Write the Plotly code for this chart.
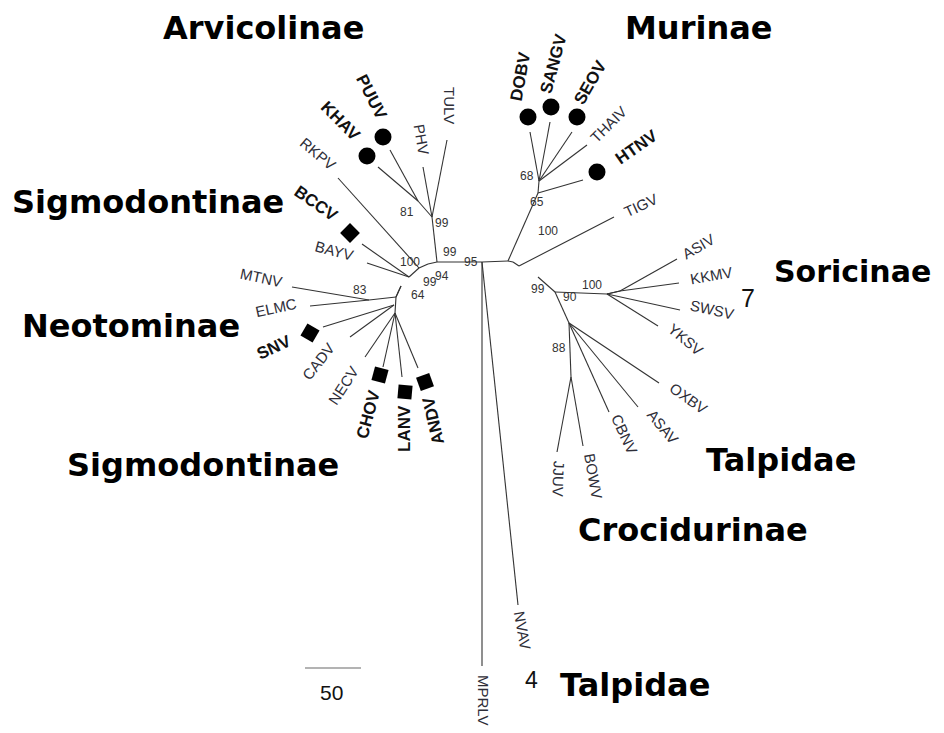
import plotly.graph_objects as go

# tree nodes (picture coordinates, y grows downward)
node_names = ["A", "M", "R", "Mu", "Mu2", "r1", "T", "r2", "S", "So", "So2", "Cr", "J",
              "B", "C", "l1", "D1", "D", "l2", "E", "F", "G", "e1",
              "TULV", "PHV", "PUUV", "KHAV", "RKPV", "BCCV", "BAYV", "MTNV", "ELMC",
              "SNV", "CADV", "NECV", "CHOV", "LANV", "ANDV",
              "DOBV", "SANGV", "SEOV", "THAIV", "HTNV", "TIGV",
              "ASIV", "KKMV", "SWSV", "YKSV", "OXBV", "ASAV", "CBNV", "BOWV", "JJUV",
              "NVAV", "MPRLV"]
node_x = [437, 482, 508, 538, 539, 513, 519, 538, 555, 607, 620, 569, 571,
          432, 418, 428, 419, 409, 401, 396, 369, 395, 394,
          447, 423, 390, 378, 338, 362, 367, 292, 310,
          323, 350, 365, 383, 402, 418,
          530, 550, 572, 587, 583, 614,
          677, 679, 680, 658, 659, 638, 609, 583, 557,
          518, 482]
node_y = [262, 262, 261, 193, 181, 262, 266, 277, 292, 294, 291, 323, 377,
          217, 201, 264, 268, 277, 286, 297, 300, 313, 305,
          140, 167, 150, 167, 178, 244, 263, 287, 306,
          327, 337, 357, 367, 377, 368,
          132, 122, 132, 145, 180, 217,
          259, 283, 310, 326, 383, 407, 412, 446, 452,
          605, 666]

edge_from = ["A", "M", "R", "Mu", "Mu2", "Mu2", "Mu2", "Mu2", "Mu",
             "R", "r1", "T", "r2", "S", "So", "So", "So2", "So2", "So", "So",
             "S", "Cr", "Cr", "Cr", "Cr", "J", "J",
             "M", "M",
             "A", "B", "B", "B", "C", "C",
             "A", "l1", "D1", "D1", "D", "D", "l2", "E", "F", "F",
             "E", "e1", "e1", "E", "G", "G", "G", "G"]
edge_to = ["M", "R", "Mu", "Mu2", "DOBV", "SANGV", "SEOV", "THAIV", "HTNV",
           "r1", "T", "TIGV", "S", "So", "So2", "SWSV", "ASIV", "KKMV", "YKSV", "So2",
           "Cr", "J", "OXBV", "ASAV", "CBNV", "BOWV", "JJUV",
           "NVAV", "MPRLV",
           "B", "TULV", "PHV", "C", "PUUV", "KHAV",
           "l1", "D1", "D", "RKPV", "BCCV", "BAYV", "E", "l2", "MTNV", "ELMC",
           "F", "SNV", "CADV", "G", "NECV", "CHOV", "LANV", "ANDV"]

circle_taxa = ["PUUV", "KHAV", "DOBV", "SANGV", "SEOV", "HTNV"]
square_taxa = ["BCCV", "SNV", "CHOV", "LANV", "ANDV"]
bold_taxa = circle_taxa + square_taxa

bootstrap_values = ["99", "81", "99", "100", "95", "99", "94", "64", "83",
                    "68", "65", "100", "99", "100", "90", "88"]

groups = ["Arvicolinae", "Murinae", "Sigmodontinae", "Soricinae", "Neotominae",
          "Sigmodontinae", "Talpidae", "Crocidurinae", "Talpidae"]
scale_value = 50

# ---- placement of marks and labels ----
marker_pos = {"PUUV": (383, 137), "KHAV": (367, 156), "DOBV": (528, 117),
              "SANGV": (551, 107), "SEOV": (577, 117), "HTNV": (597, 172),
              "BCCV": (350, 233), "SNV": (310, 333), "CHOV": (380, 375),
              "LANV": (405, 392), "ANDV": (425, 382)}
square_angle = {"BCCV": 45, "SNV": 30, "CHOV": 15, "LANV": 5, "ANDV": -20}

label_pos = {"TULV": (450, 105, 90), "PHV": (422, 139, 80), "PUUV": (372, 97, 63),
             "KHAV": (341, 121, 45), "RKPV": (318, 153, 40), "BCCV": (316, 203, 35),
             "BAYV": (334, 250, 15), "MTNV": (261, 277, 12), "ELMC": (276, 307, -12),
             "SNV": (274, 347, -25), "CADV": (318, 361, -52), "NECV": (343, 385, -57),
             "CHOV": (368, 414, -75), "LANV": (404, 429, -90), "ANDV": (433, 421, -103),
             "DOBV": (520, 76, -80), "SANGV": (553, 64, -75), "SEOV": (590, 82, -60),
             "THAIV": (608, 124, -45), "HTNV": (636, 147, -35), "TIGV": (640, 205, -25),
             "ASIV": (698, 246, -30), "KKMV": (711, 275, -10), "SWSV": (712, 309, 12),
             "YKSV": (686, 339, 40), "OXBV": (689, 398, 35), "ASAV": (663, 426, 50),
             "CBNV": (625, 434, 65), "BOWV": (594, 476, 80), "JJUV": (559, 479, 92),
             "NVAV": (523, 630, 80), "MPRLV": (484, 700, 90)}
boot_pos = [(442, 223), (407, 212), (450, 252), (410, 262), (471, 262), (430, 282),
            (442, 276), (418, 295), (360, 290), (527, 176), (537, 202), (548, 231),
            (538, 289), (592, 285), (570, 297), (559, 348)]
group_pos = [(263, 28), (698, 28), (148, 202), (852, 271), (131, 326),
             (203, 465), (781, 460), (693, 530), (635, 685)]
group_size = [32, 32, 32, 30, 32, 32, 32, 32, 32]

pos = {n: (x, y) for n, x, y in zip(node_names, node_x, node_y)}

ex, ey = [], []
for a, b in zip(edge_from, edge_to):
    ex += [pos[a][0], pos[b][0], None]
    ey += [pos[a][1], pos[b][1], None]

fig = go.Figure()
fig.add_trace(go.Scatter(x=ex, y=ey, mode="lines", line=dict(color="#333333", width=1.1),
                         hoverinfo="skip", showlegend=False))
fig.add_trace(go.Scatter(x=[marker_pos[t][0] for t in circle_taxa],
                         y=[marker_pos[t][1] for t in circle_taxa],
                         mode="markers", marker=dict(symbol="circle", size=17, color="black"),
                         hoverinfo="skip", showlegend=False))
fig.add_trace(go.Scatter(x=[marker_pos[t][0] for t in square_taxa],
                         y=[marker_pos[t][1] for t in square_taxa],
                         mode="markers",
                         marker=dict(symbol="square", size=14, color="black",
                                     angle=[square_angle[t] for t in square_taxa]),
                         hoverinfo="skip", showlegend=False))

# scale bar
fig.add_trace(go.Scatter(x=[305, 361], y=[668, 668], mode="lines",
                         line=dict(color="#9a9a9a", width=1.5), hoverinfo="skip",
                         showlegend=False))
fig.add_annotation(x=331, y=692, text=str(scale_value), showarrow=False,
                   font=dict(family="Liberation Sans", size=21, color="#111"))

for name, (x, y, ang) in label_pos.items():
    bold = name in bold_taxa
    fig.add_annotation(x=x, y=y, text=name, textangle=ang, showarrow=False,
                       font=dict(family="Liberation Sans", size=17 if bold else 15,
                                 color="#111" if bold else "#2e2e38",
                                 weight="bold" if bold else "normal"))

for v, (x, y) in zip(bootstrap_values, boot_pos):
    fig.add_annotation(x=x, y=y, text=v, showarrow=False,
                       font=dict(family="Liberation Sans", size=12, color="#333"))

for g, (x, y), s in zip(groups, group_pos, group_size):
    fig.add_annotation(x=x, y=y, text=g, showarrow=False,
                       font=dict(family="DejaVu Sans", size=s, color="black", weight="bold"))

fig.add_annotation(x=748, y=298, text="7", showarrow=False,
                   font=dict(family="Liberation Sans", size=25, color="#111"))
fig.add_annotation(x=531, y=680, text="4", showarrow=False,
                   font=dict(family="Liberation Sans", size=23, color="#111"))

# the page body keeps an 8px margin, so the plot area starts at (8, 8)
fig.update_layout(width=936, height=725, margin=dict(l=0, r=0, t=0, b=0),
                  plot_bgcolor="white", paper_bgcolor="white",
                  xaxis=dict(range=[8, 944], visible=False, fixedrange=True),
                  yaxis=dict(range=[733, 8], visible=False, fixedrange=True))
fig.write_html("out.html")
